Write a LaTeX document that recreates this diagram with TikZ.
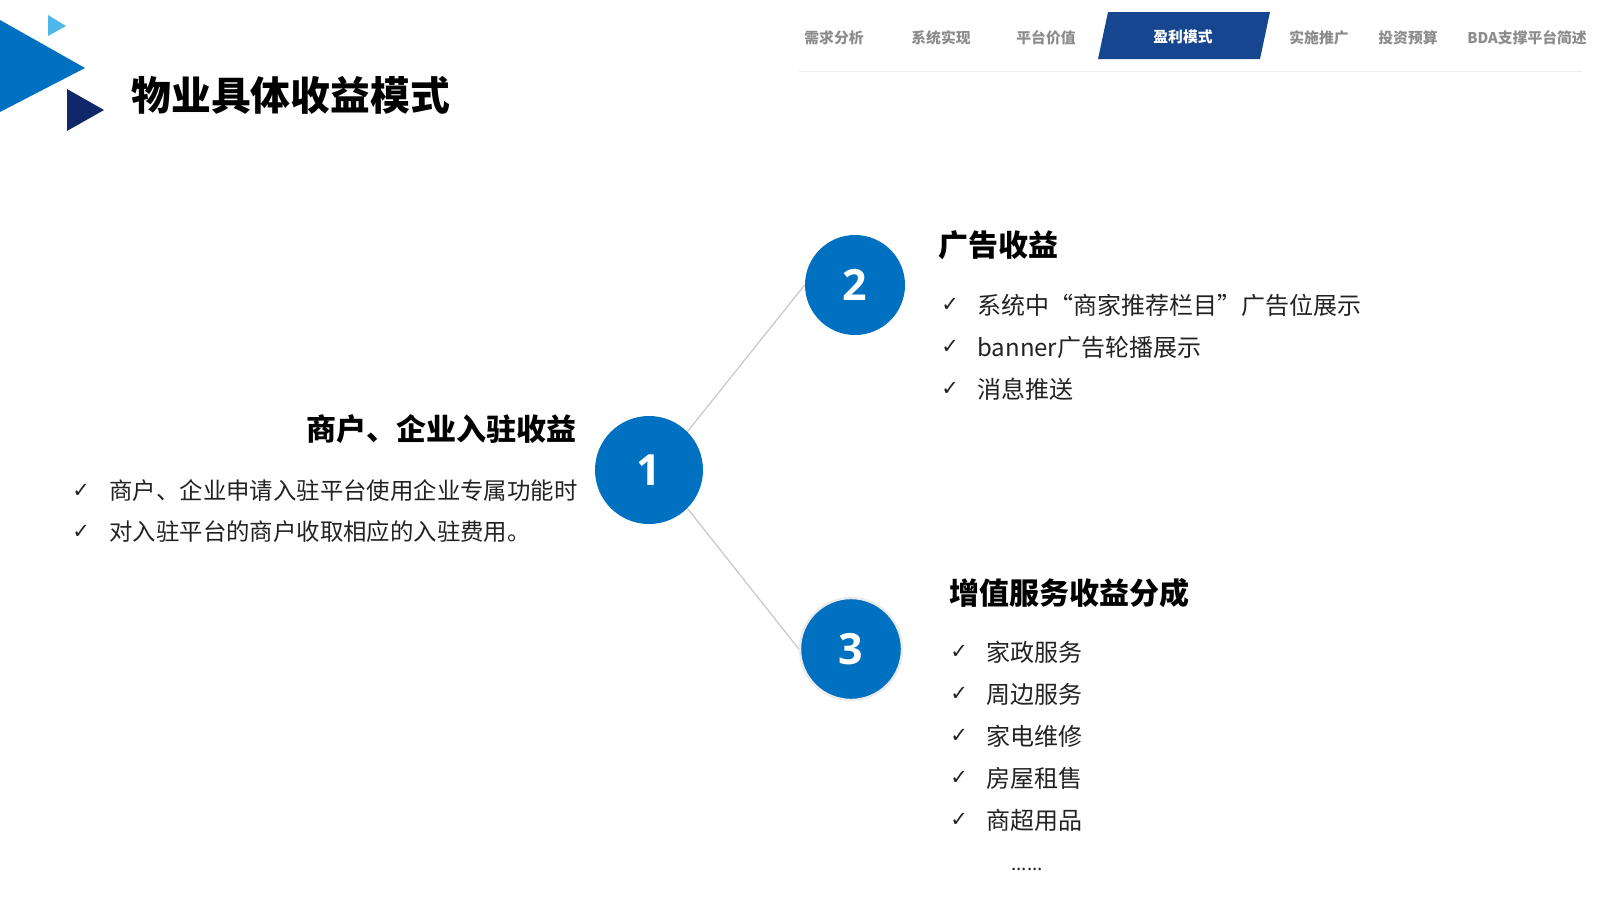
\documentclass[tikz,border=0pt]{standalone}
\usepackage{fontspec}
\setmainfont{Noto Sans CJK SC}
\newfontfamily\numfont{Open Sans}
\newfontfamily\symfont{DejaVu Sans}
\usepackage{tikz}
\usetikzlibrary{positioning, calc}
\definecolor{mainblue}{HTML}{0070C0}
\definecolor{lightblue}{HTML}{4DB8EC}
\definecolor{darknavy}{HTML}{10286A}
\definecolor{tabblue}{HTML}{16468F}
\definecolor{navgray}{HTML}{8C8C8C}
\definecolor{textdark}{HTML}{222222}

\begin{document}
\begin{tikzpicture}[
    x=0.5pt, y=-0.5pt,
    navitem/.style={font=\bfseries\fontsize{7.4}{9}\selectfont, text=navgray, inner sep=0},
    navactive/.style={font=\bfseries\fontsize{7.4}{9}\selectfont, text=white, inner sep=0},
    numcircle/.style={circle, fill=mainblue, inner sep=0, font=\numfont\bfseries\fontsize{21.5}{24}\selectfont, text=white},
    heading/.style={font=\bfseries\fontsize{15}{18}\selectfont, text=black, inner sep=0},
    item/.style={font=\fontsize{12}{15}\selectfont, text=textdark, inner sep=0, anchor=west},
    check/.style={font=\symfont\fontsize{10.5}{12}\selectfont, text=textdark, inner sep=0, anchor=west},
    link/.style={draw=black!22, line width=0.6pt}
]
\useasboundingbox (0,0) rectangle (1600,900);

% Corner marks
\fill[mainblue] (0,20) -- (85,68) -- (0,112) -- cycle;
\fill[lightblue] (48,15) -- (66,26) -- (48,36) -- cycle;
\fill[darknavy] (67,89) -- (104,110) -- (67,131) -- cycle;

\node[anchor=west, inner sep=0, font=\bfseries\fontsize{19.9}{24}\selectfont] (title) at (131,95) {物业具体收益模式};

% Navigation
\fill[tabblue] (1108,12) -- (1270,12) -- (1260,59) -- (1098,59) -- cycle;
\node[navitem] (nav1) at (834,38) {需求分析};
\node[navitem] (nav2) at (941,38) {系统实现};
\node[navitem] (nav3) at (1046,38) {平台价值};
\node[navactive] (nav4) at (1183,37) {盈利模式};
\node[navitem] (nav5) at (1319,38) {实施推广};
\node[navitem] (nav6) at (1408,38) {投资预算};
\node[navitem] (nav7) at (1527,38) {BDA支撑平台简述};
\draw[black!7, line width=0.5pt] (799,71) -- (1582,71);

% Circles
\node[numcircle, minimum size=54pt] (one) at (649,470) {1};
\node[numcircle, minimum size=50pt] (two) at (855,285) {2};
\node[numcircle, minimum size=51pt, draw=black!8, line width=1.2pt] (three) at (851,649) {3};

\draw[link] (one.45) -- (two.west);
\draw[link] (one.-45) -- (three.west);

% Block 1
\node[heading, anchor=east] (h1) at (577,429) {商户、企业入驻收益};
\node[check] (c11) at (72,491) {✓};
\node[item, font=\fontsize{11.7}{14}\selectfont] (t11) at (109,491) {商户、企业申请入驻平台使用企业专属功能时};
\node[check] (c12) at (72,532) {✓};
\node[item, font=\fontsize{11.7}{14}\selectfont] (t12) at (109,532) {对入驻平台的商户收取相应的入驻费用。};

% Block 2
\node[heading, anchor=west] (h2) at (938,245) {广告收益};
\node[check] (c21) at (941,305) {✓};
\node[item] (t21) at (977,305) {系统中“商家推荐栏目”广告位展示};
\node[check] (c22) at (941,347) {✓};
\node[item] (t22) at (977,347) {banner广告轮播展示};
\node[check] (c23) at (941,389) {✓};
\node[item] (t23) at (977,389) {消息推送};

% Block 3
\node[heading, anchor=west] (h3) at (949,593) {增值服务收益分成};
\node[check] (c31) at (950,652) {✓};
\node[item] (t31) at (986,652) {家政服务};
\node[check] (c32) at (950,694) {✓};
\node[item] (t32) at (986,694) {周边服务};
\node[check] (c33) at (950,736) {✓};
\node[item] (t33) at (986,736) {家电维修};
\node[check] (c34) at (950,778) {✓};
\node[item] (t34) at (986,778) {房屋租售};
\node[check] (c35) at (950,820) {✓};
\node[item] (t35) at (986,820) {商超用品};
\node[item, font=\fontsize{9.5}{11}\selectfont] (more) at (1011,869) {......};

\end{tikzpicture}
\end{document}
